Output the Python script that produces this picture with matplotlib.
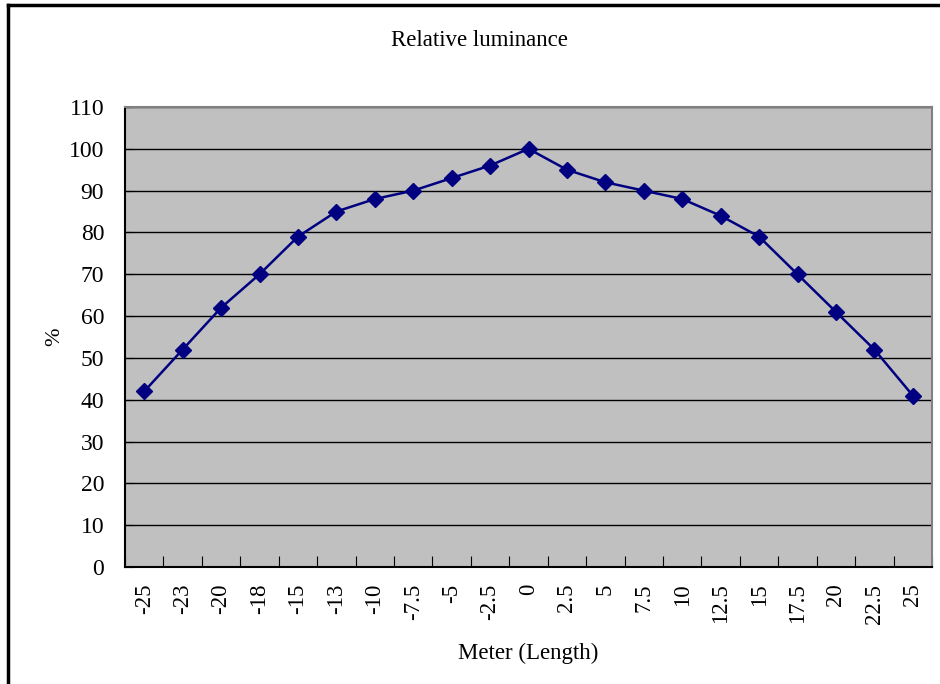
import matplotlib.pyplot as plt
from matplotlib.lines import Line2D

plt.rcParams['font.family'] = ['Liberation Serif', 'DejaVu Serif']

meters = ['-25', '-23', '-20', '-18', '-15', '-13', '-10', '-7.5', '-5', '-2.5', '0',
          '2.5', '5', '7.5', '10', '12.5', '15', '17.5', '20', '22.5', '25']
luminance = [42, 52, 62, 70, 79, 85, 88, 90, 93, 96, 100,
             95, 92, 90, 88, 84, 79, 70, 61, 52, 41]

fig = plt.figure(figsize=(9.4, 6.84), dpi=100)
ax = fig.add_axes([125 / 940, 1 - 567 / 684, (932 - 125) / 940, (567 - 107) / 684])

pos = list(range(len(meters)))
ax.plot(pos, luminance, color='#000080', lw=1.8, marker='D', ms=8, zorder=3)

ax.set_facecolor('#C0C0C0')
ax.set_xlim(-0.5, len(meters) - 0.5)
ax.set_ylim(0, 110)
ax.set_yticks(range(0, 111, 10))
ax.yaxis.grid(True, color='black', lw=1)
ax.set_axisbelow(True)

ax.set_xticks([p - 0.5 for p in pos] + [len(meters) - 0.5])
ax.set_xticklabels([])
ax.set_xticks(pos, minor=True)
ax.set_xticklabels(meters, minor=True, rotation=90, fontsize=16.5)
ax.tick_params(axis='x', which='minor', length=0, pad=12)
ax.tick_params(axis='x', which='major', direction='in', length=8, color='black')
ax.tick_params(axis='y', direction='in', length=6, labelsize=17, pad=15)

for s in ['left', 'bottom']:
    ax.spines[s].set_color('black')
    ax.spines[s].set_linewidth(1.5)
for s in ['top', 'right']:
    ax.spines[s].set_color('#808080')
    ax.spines[s].set_linewidth(1.5)

ax.set_ylabel('%', fontsize=16, labelpad=3)
ax.set_xlabel('Meter (Length)', fontsize=16.5, labelpad=14)
fig.text(479 / 940, 1 - 40 / 684, 'Relative luminance', fontsize=16.5, ha='center', va='center')

# outer chart frame (left and top edges visible)
fig.add_artist(Line2D([8 / 940, 8 / 940], [0, 1 - 5 / 684], color='black', lw=2.5, transform=fig.transFigure))
fig.add_artist(Line2D([8 / 940, 1], [1 - 5 / 684, 1 - 5 / 684], color='black', lw=2.5, transform=fig.transFigure))

fig.savefig('out.png', dpi=100)
